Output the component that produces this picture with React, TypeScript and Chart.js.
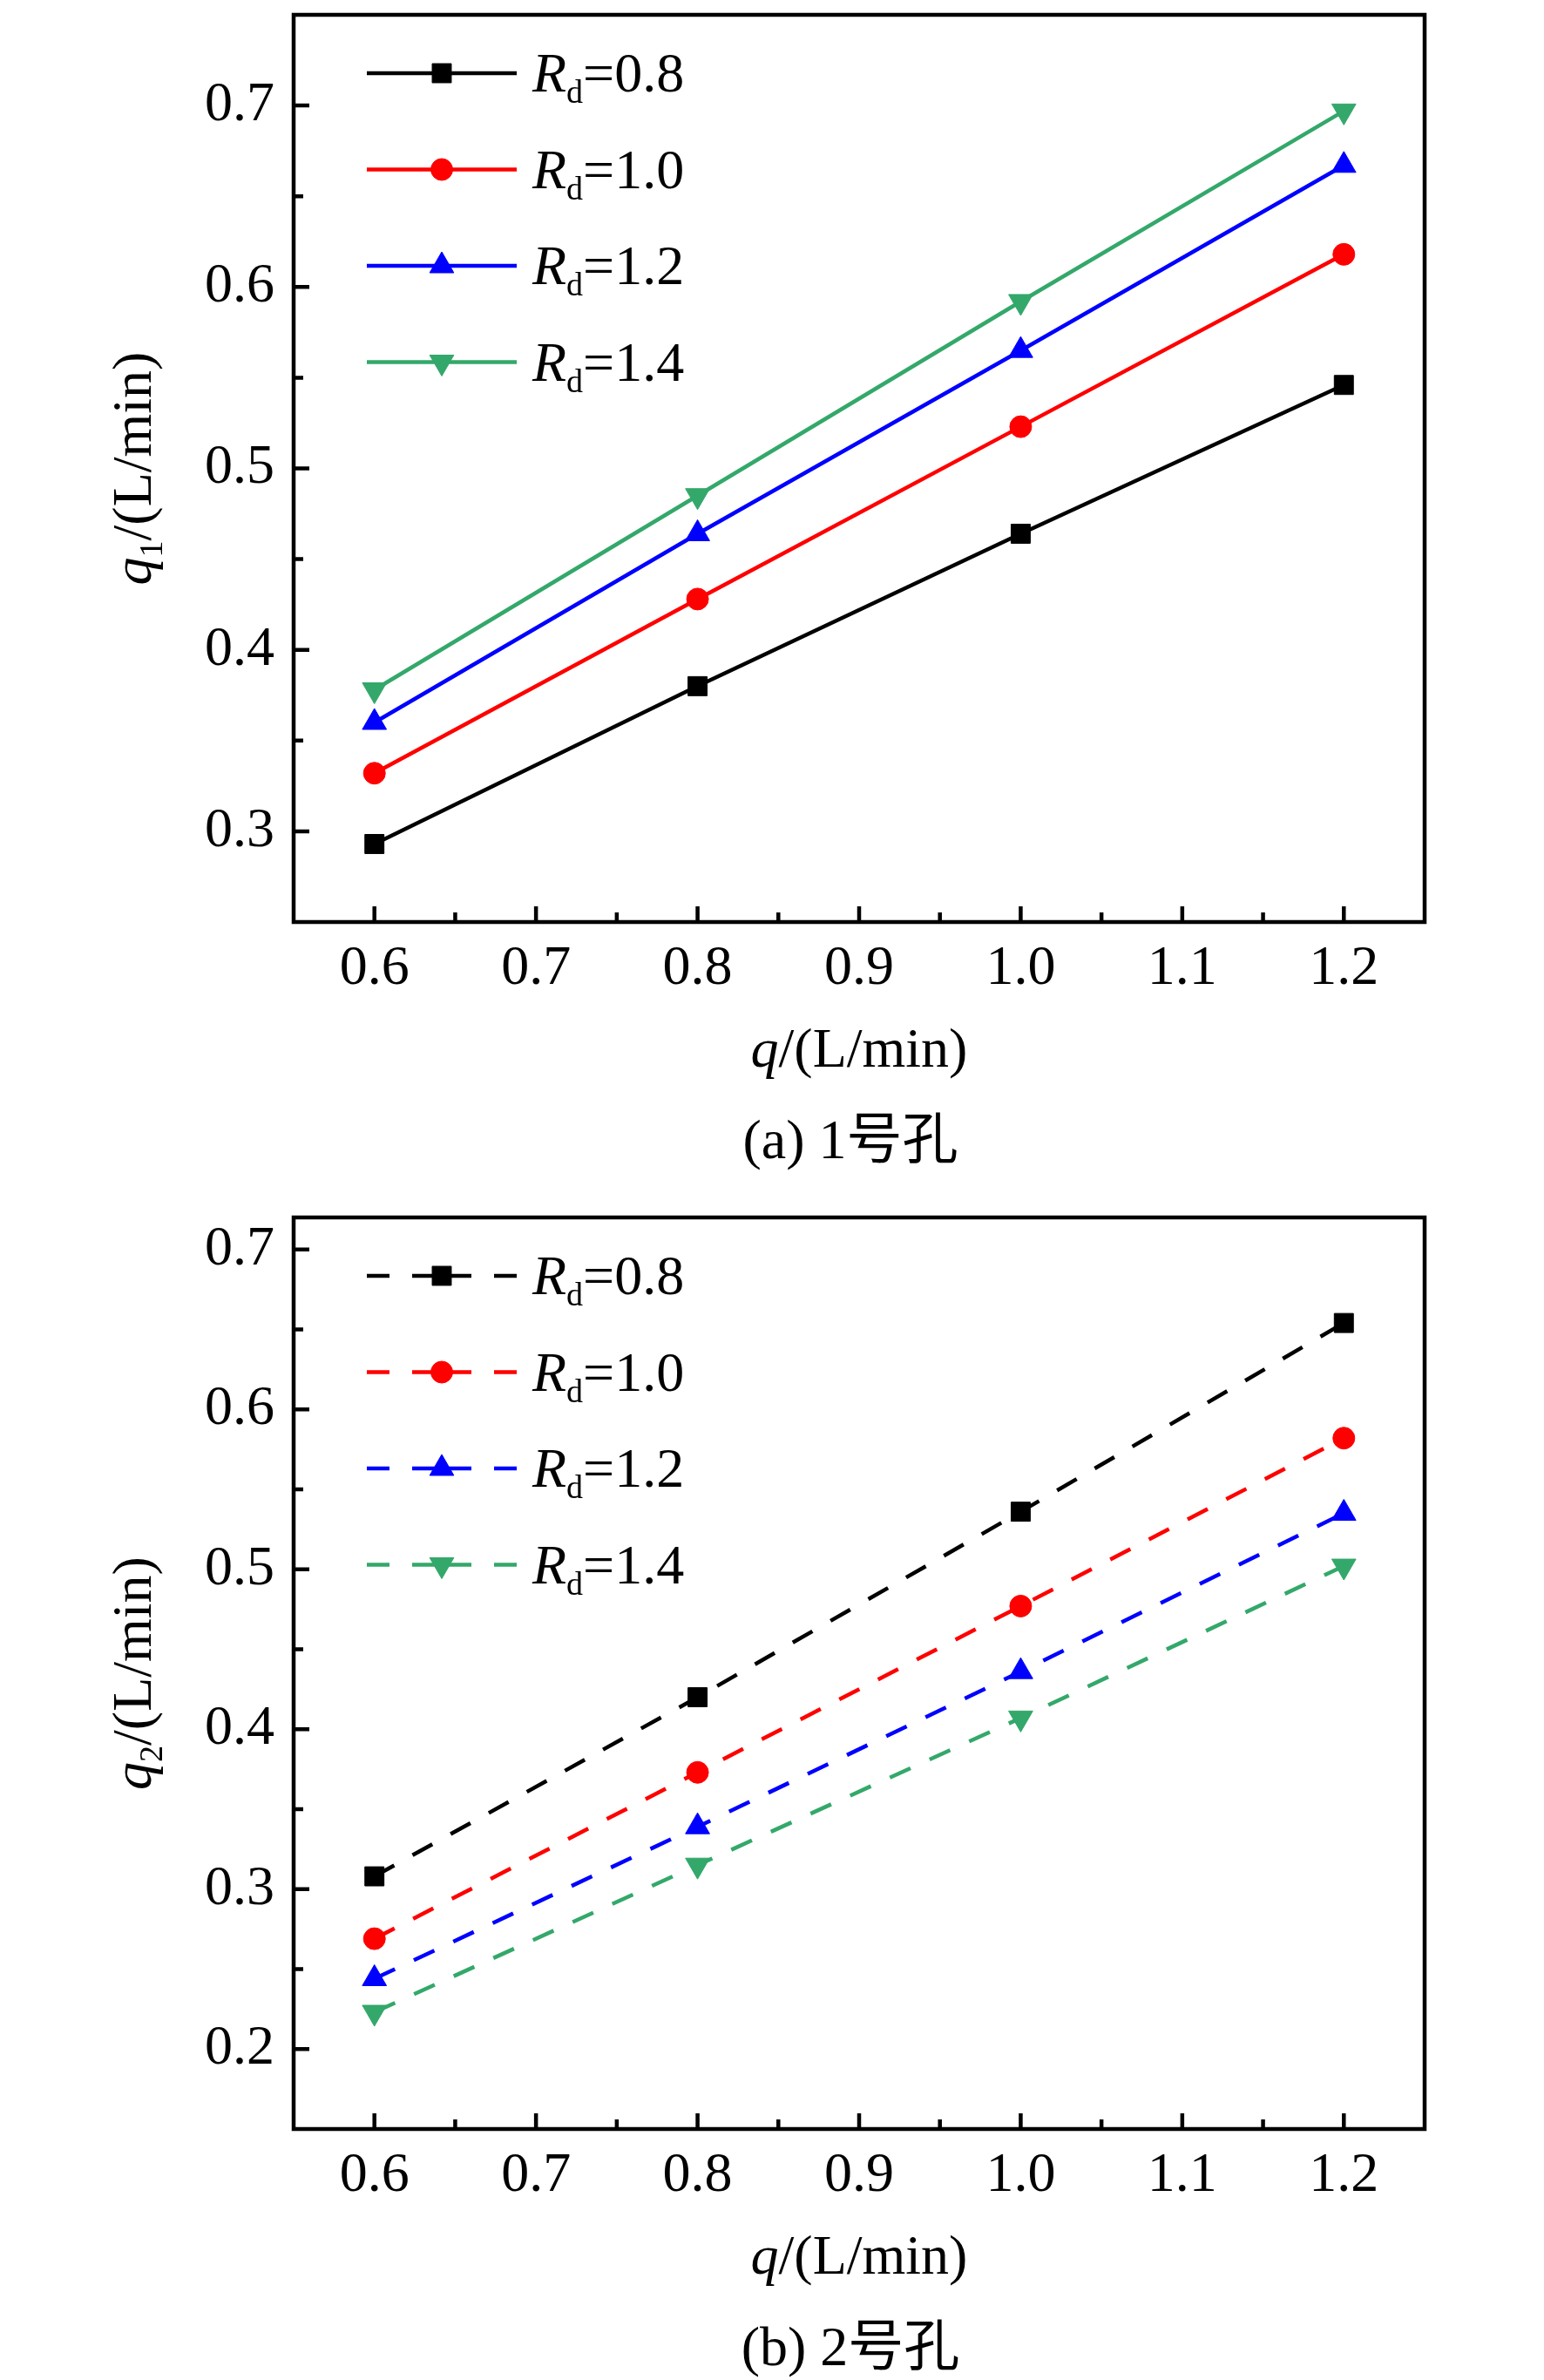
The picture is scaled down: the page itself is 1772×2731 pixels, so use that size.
import React, { useEffect, useRef } from 'react';
import { Chart, registerables } from 'chart.js';

Chart.register(...registerables);

// ---------------- data ----------------
const qValues = [0.6, 0.8, 1.0, 1.2];
const rdLabels = ['0.8', '1.0', '1.2', '1.4'];

// hole 1 (q1)
const hole1Rd08 = [0.293, 0.380, 0.464, 0.546];
const hole1Rd10 = [0.332, 0.428, 0.523, 0.618];
const hole1Rd12 = [0.360, 0.464, 0.565, 0.667];
const hole1Rd14 = [0.378, 0.485, 0.592, 0.697];

// hole 2 (q2)
const hole2Rd08 = [0.308, 0.420, 0.536, 0.654];
const hole2Rd10 = [0.269, 0.373, 0.477, 0.582];
const hole2Rd12 = [0.244, 0.339, 0.436, 0.535];
const hole2Rd14 = [0.223, 0.315, 0.407, 0.502];

const xTicks = [0.6, 0.7, 0.8, 0.9, 1.0, 1.1, 1.2];
const xMinorTicks = [0.65, 0.75, 0.85, 0.95, 1.05, 1.15];
const yTicksA = [0.3, 0.4, 0.5, 0.6, 0.7];
const yMinorTicksA = [0.35, 0.45, 0.55, 0.65];
const yTicksB = [0.2, 0.3, 0.4, 0.5, 0.6, 0.7];
const yMinorTicksB = [0.25, 0.35, 0.45, 0.55, 0.65];

const seriesColors = ['#000000', '#ff0000', '#0000ff', '#33a86a'];
const pointStyles = ['rect', 'circle', 'triangle', 'triangle'];
const pointRotations = [0, 0, 0, 180];
const pointRadii = [15.5, 12.5, 16, 16];

// ---------------- styling ----------------
const SERIF = "'Liberation Serif', 'Times New Roman', 'Noto Sans CJK SC', serif";
const FS = 64;
const SUB_FS = 38;
const SUB_DY = 13;
const W = 1772;

type Seg = { t: string; italic?: boolean; sub?: boolean };

function segFont(s: Seg) {
  return `${s.italic ? 'italic ' : ''}${s.sub ? SUB_FS : FS}px ${SERIF}`;
}

function drawRich(ctx: CanvasRenderingContext2D, segs: Seg[], x: number, y: number, align: 'left' | 'center') {
  ctx.save();
  ctx.textBaseline = 'alphabetic';
  ctx.textAlign = 'left';
  ctx.fillStyle = '#000';
  let total = 0;
  const widths = segs.map((s) => {
    ctx.font = segFont(s);
    const w = ctx.measureText(s.t).width;
    total += w;
    return w;
  });
  let cx = align === 'center' ? x - total / 2 : x;
  segs.forEach((s, i) => {
    ctx.font = segFont(s);
    ctx.fillText(s.t, cx, y + (s.sub ? SUB_DY : 0));
    cx += widths[i];
  });
  ctx.restore();
}

function drawMarker(ctx: CanvasRenderingContext2D, style: string, r: number, rot: number, x: number, y: number, color: string) {
  ctx.save();
  ctx.fillStyle = color;
  ctx.strokeStyle = color;
  ctx.lineWidth = 1;
  ctx.setLineDash([]);
  ctx.beginPath();
  if (style === 'rect') {
    const s = Math.SQRT1_2 * r;
    ctx.rect(x - s, y - s, 2 * s, 2 * s);
  } else if (style === 'circle') {
    ctx.arc(x, y, r, 0, Math.PI * 2);
  } else {
    let rad = (rot * Math.PI) / 180;
    ctx.moveTo(x + Math.sin(rad) * r, y - Math.cos(rad) * r);
    rad += (2 * Math.PI) / 3;
    ctx.lineTo(x + Math.sin(rad) * r, y - Math.cos(rad) * r);
    rad += (2 * Math.PI) / 3;
    ctx.lineTo(x + Math.sin(rad) * r, y - Math.cos(rad) * r);
    ctx.closePath();
  }
  ctx.fill();
  ctx.stroke();
  ctx.restore();
}

type PanelDef = {
  height: number;
  plotTop: number;
  plotBottom: number;
  yMin: number;
  yMax: number;
  yTicks: number[];
  yMinor: number[];
  series: number[][];
  dashed: boolean;
  ySub: string;
  caption: string;
};

const PLOT_LEFT = 337;
const PLOT_RIGHT = 1635;

function makePlugin(p: PanelDef) {
  return {
    id: 'decor',
    afterDraw(chart: any) {
      const ctx: CanvasRenderingContext2D = chart.ctx;
      const { left, right, top, bottom } = chart.chartArea;
      const xs = chart.scales.x;
      const ys = chart.scales.y;
      ctx.save();
      ctx.strokeStyle = '#000';
      ctx.lineWidth = 4.5;
      ctx.setLineDash([]);
      ctx.strokeRect(left, top, right - left, bottom - top);
      ctx.beginPath();
      xTicks.forEach((v) => {
        const px = xs.getPixelForValue(v);
        ctx.moveTo(px, bottom);
        ctx.lineTo(px, bottom - 18);
      });
      xMinorTicks.forEach((v) => {
        const px = xs.getPixelForValue(v);
        ctx.moveTo(px, bottom);
        ctx.lineTo(px, bottom - 11);
      });
      p.yTicks.forEach((v) => {
        const py = ys.getPixelForValue(v);
        ctx.moveTo(left, py);
        ctx.lineTo(left + 18, py);
      });
      p.yMinor.forEach((v) => {
        const py = ys.getPixelForValue(v);
        ctx.moveTo(left, py);
        ctx.lineTo(left + 11, py);
      });
      ctx.stroke();
      ctx.restore();

      // legend
      chart.data.datasets.forEach((ds: any, i: number) => {
        const y = top + 67 + i * 110.5;
        const cx = 507;
        ctx.save();
        ctx.strokeStyle = ds.borderColor;
        ctx.lineWidth = 4.5;
        ctx.lineCap = 'butt';
        if (p.dashed) {
          ctx.setLineDash([34, 26, 30, 100]);
          ctx.beginPath();
          ctx.moveTo(cx, y);
          ctx.lineTo(421, y);
          ctx.stroke();
          ctx.beginPath();
          ctx.moveTo(cx, y);
          ctx.lineTo(593, y);
          ctx.stroke();
        } else {
          ctx.beginPath();
          ctx.moveTo(421, y);
          ctx.lineTo(593, y);
          ctx.stroke();
        }
        ctx.restore();
        drawMarker(ctx, ds.pointStyle, ds.pointRadius, ds.pointRotation, cx, y, ds.borderColor);
        drawRich(ctx, [{ t: 'R', italic: true }, { t: 'd', sub: true }, { t: '=' + rdLabels[i] }], 611, y + 21, 'left');
      });

      // axis titles
      const midX = (left + right) / 2;
      drawRich(ctx, [{ t: 'q', italic: true }, { t: '/(L/min)' }], midX, bottom + 166, 'center');
      ctx.save();
      ctx.translate(173, (top + bottom) / 2);
      ctx.rotate(-Math.PI / 2);
      drawRich(ctx, [{ t: 'q', italic: true }, { t: p.ySub, sub: true }, { t: '/(L/min)' }], 0, 0, 'center');
      ctx.restore();

      // caption
      drawRich(ctx, [{ t: p.caption }], 976, bottom + 271, 'center');
    },
  };
}

function Panel({ def }: { def: PanelDef }) {
  const ref = useRef<HTMLCanvasElement | null>(null);
  useEffect(() => {
    if (!ref.current) return;
    const datasets = def.series.map((vals, i) => ({
      label: 'Rd=' + rdLabels[i],
      data: qValues.map((q, j) => ({ x: q, y: vals[j] })),
      borderColor: seriesColors[i],
      backgroundColor: seriesColors[i],
      borderWidth: 4.5,
      borderDash: def.dashed ? [26, 24] : [],
      pointStyle: pointStyles[i],
      pointRotation: pointRotations[i],
      pointRadius: pointRadii[i],
      pointBorderWidth: 1,
      pointBackgroundColor: seriesColors[i],
      pointBorderColor: seriesColors[i],
      tension: 0,
      fill: false,
    }));
    const chart = new Chart(ref.current, {
      type: 'line',
      data: { datasets },
      options: {
        animation: false,
        responsive: false,
        devicePixelRatio: 1,
        layout: { padding: { left: 0, top: def.plotTop, right: W - PLOT_RIGHT, bottom: 0 } },
        plugins: { legend: { display: false }, tooltip: { enabled: false } },
        scales: {
          x: {
            type: 'linear',
            min: 0.55,
            max: 1.25,
            grid: { display: false, drawTicks: false },
            border: { display: false },
            afterBuildTicks: (s: any) => {
              s.ticks = xTicks.map((v) => ({ value: v }));
            },
            afterFit: (s: any) => {
              s.height = def.height - def.plotBottom;
              s.paddingLeft = 0;
              s.paddingRight = 0;
            },
            ticks: {
              padding: 16,
              maxRotation: 0,
              autoSkip: false,
              color: '#000',
              font: { family: SERIF, size: FS },
              callback: (v: any) => Number(v).toFixed(1),
            },
          },
          y: {
            type: 'linear',
            min: def.yMin,
            max: def.yMax,
            grid: { display: false, drawTicks: false },
            border: { display: false },
            afterBuildTicks: (s: any) => {
              s.ticks = def.yTicks.map((v) => ({ value: v }));
            },
            afterFit: (s: any) => {
              s.width = PLOT_LEFT;
              s.paddingTop = 0;
              s.paddingBottom = 0;
            },
            ticks: {
              padding: 22,
              autoSkip: false,
              color: '#000',
              font: { family: SERIF, size: FS },
              callback: (v: any) => Number(v).toFixed(1),
            },
          },
        },
      } as any,
      plugins: [makePlugin(def)],
    });
    return () => chart.destroy();
  }, [def]);
  return <canvas ref={ref} width={W} height={def.height} style={{ display: 'block', width: W, height: def.height }} />;
}

const panelA: PanelDef = {
  height: 1365,
  plotTop: 13,
  plotBottom: 1058,
  yMin: 0.25,
  yMax: 0.75,
  yTicks: yTicksA,
  yMinor: yMinorTicksA,
  series: [hole1Rd08, hole1Rd10, hole1Rd12, hole1Rd14],
  dashed: false,
  ySub: '1',
  caption: '(a) 1号孔',
};

const panelB: PanelDef = {
  height: 1366,
  plotTop: 32,
  plotBottom: 1078,
  yMin: 0.15,
  yMax: 0.72,
  yTicks: yTicksB,
  yMinor: yMinorTicksB,
  series: [hole2Rd08, hole2Rd10, hole2Rd12, hole2Rd14],
  dashed: true,
  ySub: '2',
  caption: '(b) 2号孔',
};

export default function App() {
  return (
    <div style={{ position: 'absolute', left: 0, top: 0, width: W, height: 2731, background: '#fff', overflow: 'hidden' }}>
      <div style={{ position: 'absolute', left: 0, top: 0 }}>
        <Panel def={panelA} />
      </div>
      <div style={{ position: 'absolute', left: 0, top: 1365 }}>
        <Panel def={panelB} />
      </div>
    </div>
  );
}
